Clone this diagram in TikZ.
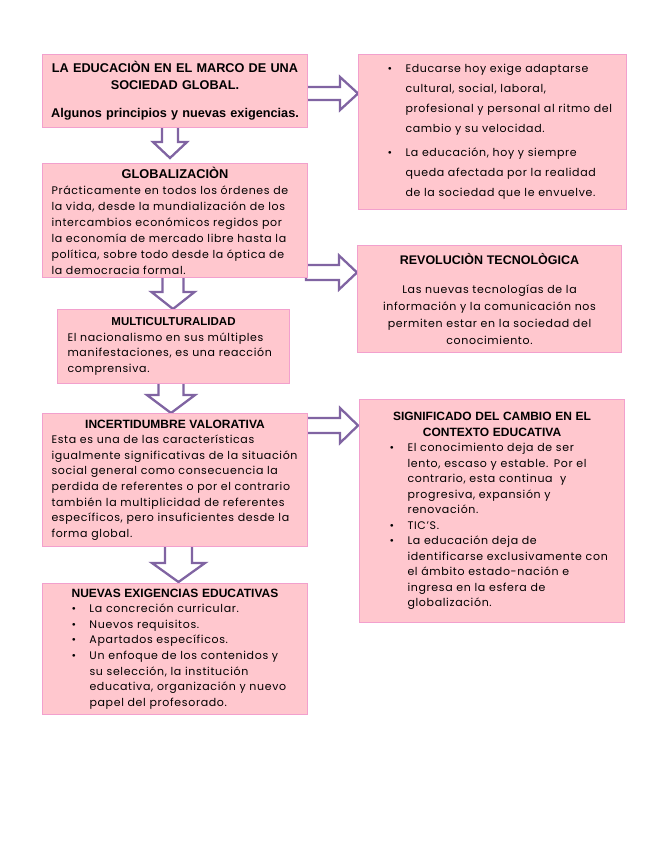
\documentclass[tikz,border=0pt]{standalone}
\usepackage{fontspec}
\setmainfont{Poppins}[LetterSpace=6]
\newfontfamily\headfont{Liberation Sans}
\usetikzlibrary{calc}
\pgfdeclarelayer{background}
\pgfsetlayers{background,main}
\definecolor{boxfill}{RGB}{255,199,206}
\definecolor{boxline}{RGB}{242,160,205}
\definecolor{arrowline}{RGB}{128,100,162}
\newcommand\bodyfont{\fontsize{11}{15.6}\selectfont}
\newcommand\Ln[2][0pt]{\leavevmode\hbox{\hskip#1\relax#2}}
\newcommand\Bl[2][0pt]{\leavevmode\hbox{\hskip#1\relax\makebox[18pt][l]{\textbullet}#2}}
\newcommand\Ct[1]{\leavevmode\hbox to\linewidth{\hss#1\hss}}
\newcommand\Hd[2][12]{\leavevmode\hbox to\linewidth{\hss\headfont\bfseries\fontsize{#1}{15.6}\selectfont #2\hss}}
\newcommand\downblock[7]{%
  \draw[blockarrow] let \p1=(#1.south), \p2=(#2.north) in
    ({#3pt-#4pt},{\y1+2pt}) -- ({#3pt-#4pt},{\y2+#7pt+#6pt}) -- ({#3pt-#5pt},{\y2+#7pt+#6pt})
    -- ({#3pt},{\y2+#7pt}) -- ({#3pt+#5pt},{\y2+#7pt+#6pt}) -- ({#3pt+#4pt},{\y2+#7pt+#6pt})
    -- ({#3pt+#4pt},{\y1+2pt}) -- cycle;}
\newcommand\rightblock[7]{%
  \draw[blockarrow] let \p1=(#1.east), \p2=(#2.west) in
    ({\x1-2pt},{-#3pt+#4pt}) -- ({\x2-#7pt-#6pt},{-#3pt+#4pt}) -- ({\x2-#7pt-#6pt},{-#3pt+#5pt})
    -- ({\x2-#7pt},{-#3pt}) -- ({\x2-#7pt-#6pt},{-#3pt-#5pt}) -- ({\x2-#7pt-#6pt},{-#3pt-#4pt})
    -- ({\x1-2pt},{-#3pt-#4pt}) -- cycle;}
\begin{document}
\begin{tikzpicture}[x=1pt,y=-1pt,
  box/.style={draw=boxline, fill=boxfill, line width=1pt, anchor=north west,
    inner xsep=6pt, inner ysep=0pt, align=left, font=\bodyfont},
  blockarrow/.style={draw=arrowline, fill=white, line width=2.3pt, line join=miter}]
\useasboundingbox (0,0) rectangle (655,848);

\node[box, text width=253pt, minimum height=73pt,
  font=\headfont\bfseries\fontsize{12.7}{17}\selectfont] (b1) at (42,54)
  {\Ct{LA EDUCACIÒN EN EL MARCO DE UNA}\\
   \Ct{SOCIEDAD GLOBAL.}\\[11pt]
   \Ct{Algunos principios y nuevas exigencias.}};

\node[box, text width=256pt, minimum height=155pt,
  font=\fontsize{11}{20}\selectfont] (r1) at (358,54)
  {\Bl[23pt]{Educarse hoy exige adaptarse}\\
   \Ln[41pt]{cultural, social, laboral,}\\
   \Ln[41pt]{profesional y personal al ritmo del}\\
   \Ln[41pt]{cambio y su velocidad.}\\[4pt]
   \Bl[23pt]{La educación, hoy y siempre}\\
   \Ln[41pt]{queda afectada por la realidad}\\
   \Ln[41pt]{de la sociedad que le envuelve.}};

\node[box, text width=253pt, minimum height=114pt,
  font=\fontsize{11}{16}\selectfont] (glob) at (42,163)
  {\Hd[12.8]{GLOBALIZACIÒN}\\
   \Ln[3pt]{Prácticamente en todos los órdenes de}\\
   \Ln[3pt]{la vida, desde la mundialización de los}\\
   \Ln[3pt]{intercambios económicos regidos por}\\
   \Ln[3pt]{la economía de mercado libre hasta la}\\
   \Ln[3pt]{política, sobre todo desde la óptica de}\\
   \Ln[3pt]{la democracia formal.}};

\node[box, text width=252pt, minimum height=107pt,
  font=\fontsize{11}{17}\selectfont] (rev) at (357,245)
  {\Hd[12.5]{REVOLUCIÒN TECNOLÒGICA}\\[12pt]
   \Ct{Las nuevas tecnologías de la}\\
   \Ct{información y la comunicación nos}\\
   \Ct{permiten estar en la sociedad del}\\
   \Ct{conocimiento.}};

\node[box, text width=220pt, minimum height=74pt] (multi) at (57,309)
  {\Hd[11.5]{MULTICULTURALIDAD}\\
   \Ln[4pt]{El nacionalismo en sus múltiples}\\
   \Ln[4pt]{manifestaciones, es una reacción}\\
   \Ln[4pt]{comprensiva.}};

\node[box, text width=253pt, minimum height=133pt] (incert) at (42,413)
  {\Hd{INCERTIDUMBRE VALORATIVA}\\
   \Ln[3pt]{Esta es una de las características}\\
   \Ln[3pt]{igualmente significativas de la situación}\\
   \Ln[3pt]{social general como consecuencia la}\\
   \Ln[3pt]{perdida de referentes o por el contrario}\\
   \Ln[3pt]{también la multiplicidad de referentes}\\
   \Ln[3pt]{específicos, pero insuficientes desde la}\\
   \Ln[3pt]{forma global.}};

\node[box, text width=253pt, minimum height=223pt,
  font=\fontsize{11}{15.5}\selectfont] (sign) at (359,399)
  {\Hd{SIGNIFICADO DEL CAMBIO EN EL}\\
   \Hd{CONTEXTO EDUCATIVA}\\
   \Bl[24pt]{El conocimiento deja de ser}\\
   \Ln[42pt]{lento, escaso y estable. Por el}\\
   \Ln[42pt]{contrario, esta continua\ \ y}\\
   \Ln[42pt]{progresiva, expansión y}\\
   \Ln[42pt]{renovación.}\\
   \Bl[24pt]{TIC'S.}\\
   \Bl[24pt]{La educación deja de}\\
   \Ln[42pt]{identificarse exclusivamente con}\\
   \Ln[42pt]{el ámbito estado-nación e}\\
   \Ln[42pt]{ingresa en la esfera de}\\
   \Ln[42pt]{globalización.}};

\node[box, text width=253pt, minimum height=131pt] (nuevas) at (42,583)
  {\Hd{NUEVAS EXIGENCIAS EDUCATIVAS}\\
   \Bl[23pt]{La concreción curricular.}\\
   \Bl[23pt]{Nuevos requisitos.}\\
   \Bl[23pt]{Apartados específicos.}\\
   \Bl[23pt]{Un enfoque de los contenidos y}\\
   \Ln[41pt]{su selección, la institución}\\
   \Ln[41pt]{educativa, organización y nuevo}\\
   \Ln[41pt]{papel del profesorado.}};

\begin{pgfonlayer}{background}
  \fill[white] (0,0) rectangle (655,848);
  \downblock{b1}{glob}{170}{8}{17}{16}{5}
  \downblock{glob}{multi}{173}{10.5}{21.5}{17}{0}
  \downblock{multi}{incert}{171}{12.5}{24}{18}{0}
  \downblock{incert}{nuevas}{178.5}{13.5}{26.5}{19}{1}
  \rightblock{b1}{r1}{93.5}{6.5}{16.5}{18}{0}
  \rightblock{glob}{rev}{272.5}{7.5}{17}{18}{0}
  \rightblock{incert}{sign}{425.5}{7.5}{17.5}{18}{1}
\end{pgfonlayer}
\end{tikzpicture}
\end{document}
